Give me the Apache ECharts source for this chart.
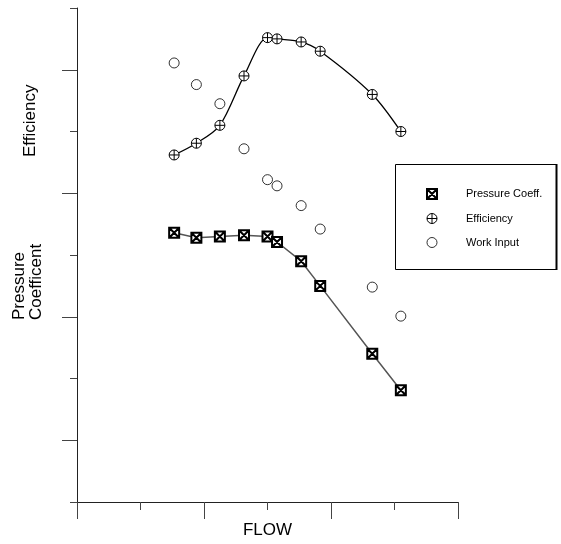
<!DOCTYPE html>
<html>
<head>
<meta charset="utf-8">
<script src="https://cdn.jsdelivr.net/npm/echarts@6/dist/echarts.min.js"></script>
<style>
  html, body { margin: 0; padding: 0; background: #fff; }
  #main { width: 561px; height: 544px; }
</style>
</head>
<body>
<div id="main"></div>
<script>
// values (x: FLOW, y: shared axis 0..8)
var flow = [1.53, 1.88, 2.25, 2.63, 3.0, 3.15, 3.53, 3.83, 4.65, 5.1];
var efficiency = [5.62, 5.81, 6.10, 6.90, 7.52, 7.50, 7.45, 7.30, 6.60, 6.00];
var pressure = [4.36, 4.28, 4.30, 4.32, 4.30, 4.21, 3.90, 3.50, 2.40, 1.81];
var workInput = [7.11, 6.76, 6.45, 5.72, 5.22, 5.12, 4.80, 4.42, 3.48, 3.01];
var xTicks = ['0', '1', '2', '3', '4', '5', '6'];
var yTicks = ['0', '1', '2', '3', '4', '5', '6', '7', '8'];

function pairs(ys) {
  return flow.map(function (x, i) { return [x, ys[i]]; });
}

var FONT = 'Liberation Sans, Arial, sans-serif';
var boxX = 'path://M0 0H10V10H0Z M0 0L10 10 M10 0L0 10';
var circPlus = 'path://M5 0A5 5 0 1 1 5 10A5 5 0 1 1 5 0Z M5 0V10 M0 5H10';
var circ = 'path://M5 0A5 5 0 1 1 5 10A5 5 0 1 1 5 0Z';

var myChart = echarts.init(document.getElementById('main'));
myChart.setOption({
  animation: false,
  backgroundColor: '#fff',
  grid: { left: 77, top: 8, width: 381, height: 500 },
  xAxis: [
    {
      type: 'value', min: 0, max: 6, interval: 1,
      name: 'FLOW', nameLocation: 'middle', nameGap: 20,
      nameTextStyle: { fontFamily: FONT, fontSize: 17, color: '#000' },
      axisLine: { lineStyle: { color: '#222', width: 1 } },
      axisTick: { length: 8, lineStyle: { color: '#444' } },
      axisLabel: { show: false },
      splitLine: { show: false }
    },
    {
      // long ticks every other step
      type: 'category', data: xTicks, boundaryGap: false, position: 'bottom',
      axisLine: { show: false },
      axisTick: { length: 17, interval: function (i) { return i % 2 === 0; }, lineStyle: { color: '#444' } },
      axisLabel: { show: false },
      splitLine: { show: false }
    }
  ],
  yAxis: [
    {
      type: 'value', min: 0, max: 8, interval: 1,
      axisLine: { lineStyle: { color: '#222', width: 1 } },
      axisTick: { length: 7, lineStyle: { color: '#444' } },
      axisLabel: { show: false },
      splitLine: { show: false }
    },
    {
      type: 'category', data: yTicks, boundaryGap: false, position: 'left',
      axisLine: { show: false },
      axisTick: { length: 15, interval: function (i) { return i % 2 === 1; }, lineStyle: { color: '#444' } },
      axisLabel: { show: false },
      splitLine: { show: false }
    }
  ],
  legend: {
    orient: 'vertical',
    left: 421, top: 183,
    itemWidth: 58, itemHeight: 10, itemGap: 13,
    symbolKeepAspect: true,
    textStyle: { fontFamily: FONT, fontSize: 11, color: '#000', lineHeight: 10 },
    data: [
      { name: 'Pressure Coeff.', icon: boxX, itemStyle: { color: '#fff', borderColor: '#000', borderWidth: 2 } },
      { name: 'Efficiency', icon: circPlus, itemStyle: { color: '#fff', borderColor: '#000', borderWidth: 1 } },
      { name: 'Work Input', icon: circ, itemStyle: { color: '#fff', borderColor: '#000', borderWidth: 1 } }
    ]
  },
  graphic: [
    {
      type: 'rect', silent: true,
      shape: { x: 395.5, y: 164.5, width: 161, height: 105 },
      style: { fill: 'none', stroke: '#000', lineWidth: 1 }
    },
    {
      type: 'line', silent: true,
      shape: { x1: 556.5, y1: 164, x2: 556.5, y2: 270 },
      style: { stroke: '#000', lineWidth: 2 }
    },
    {
      type: 'text', x: 30, y: 157, rotation: Math.PI / 2,
      style: { text: 'Efficiency', font: '17px ' + FONT, fill: '#000', align: 'left', verticalAlign: 'middle' }
    },
    {
      type: 'text', x: 19, y: 320, rotation: Math.PI / 2,
      style: { text: 'Pressure', font: '17px ' + FONT, fill: '#000', align: 'left', verticalAlign: 'middle' }
    },
    {
      type: 'text', x: 36, y: 320, rotation: Math.PI / 2,
      style: { text: 'Coefficent', font: '17px ' + FONT, fill: '#000', align: 'left', verticalAlign: 'middle' }
    }
  ],
  series: [
    {
      name: 'Work Input', type: 'scatter',
      data: pairs(workInput),
      symbol: circ, symbolSize: 10,
      itemStyle: { color: '#fff', borderColor: '#000', borderWidth: 1 }
    },
    {
      name: 'Pressure Coeff.', type: 'line',
      data: pairs(pressure),
      symbol: boxX, symbolSize: 10, showAllSymbol: true,
      lineStyle: { color: '#555', width: 1.5 },
      itemStyle: { color: '#fff', borderColor: '#000', borderWidth: 2 },
      z: 3
    },
    {
      name: 'Efficiency', type: 'line',
      data: pairs(efficiency),
      smooth: 0.3,
      symbol: circPlus, symbolSize: 10, showAllSymbol: true,
      lineStyle: { color: '#000', width: 1.3 },
      itemStyle: { color: '#fff', borderColor: '#000', borderWidth: 1 },
      z: 4
    }
  ]
});
</script>
</body>
</html>
